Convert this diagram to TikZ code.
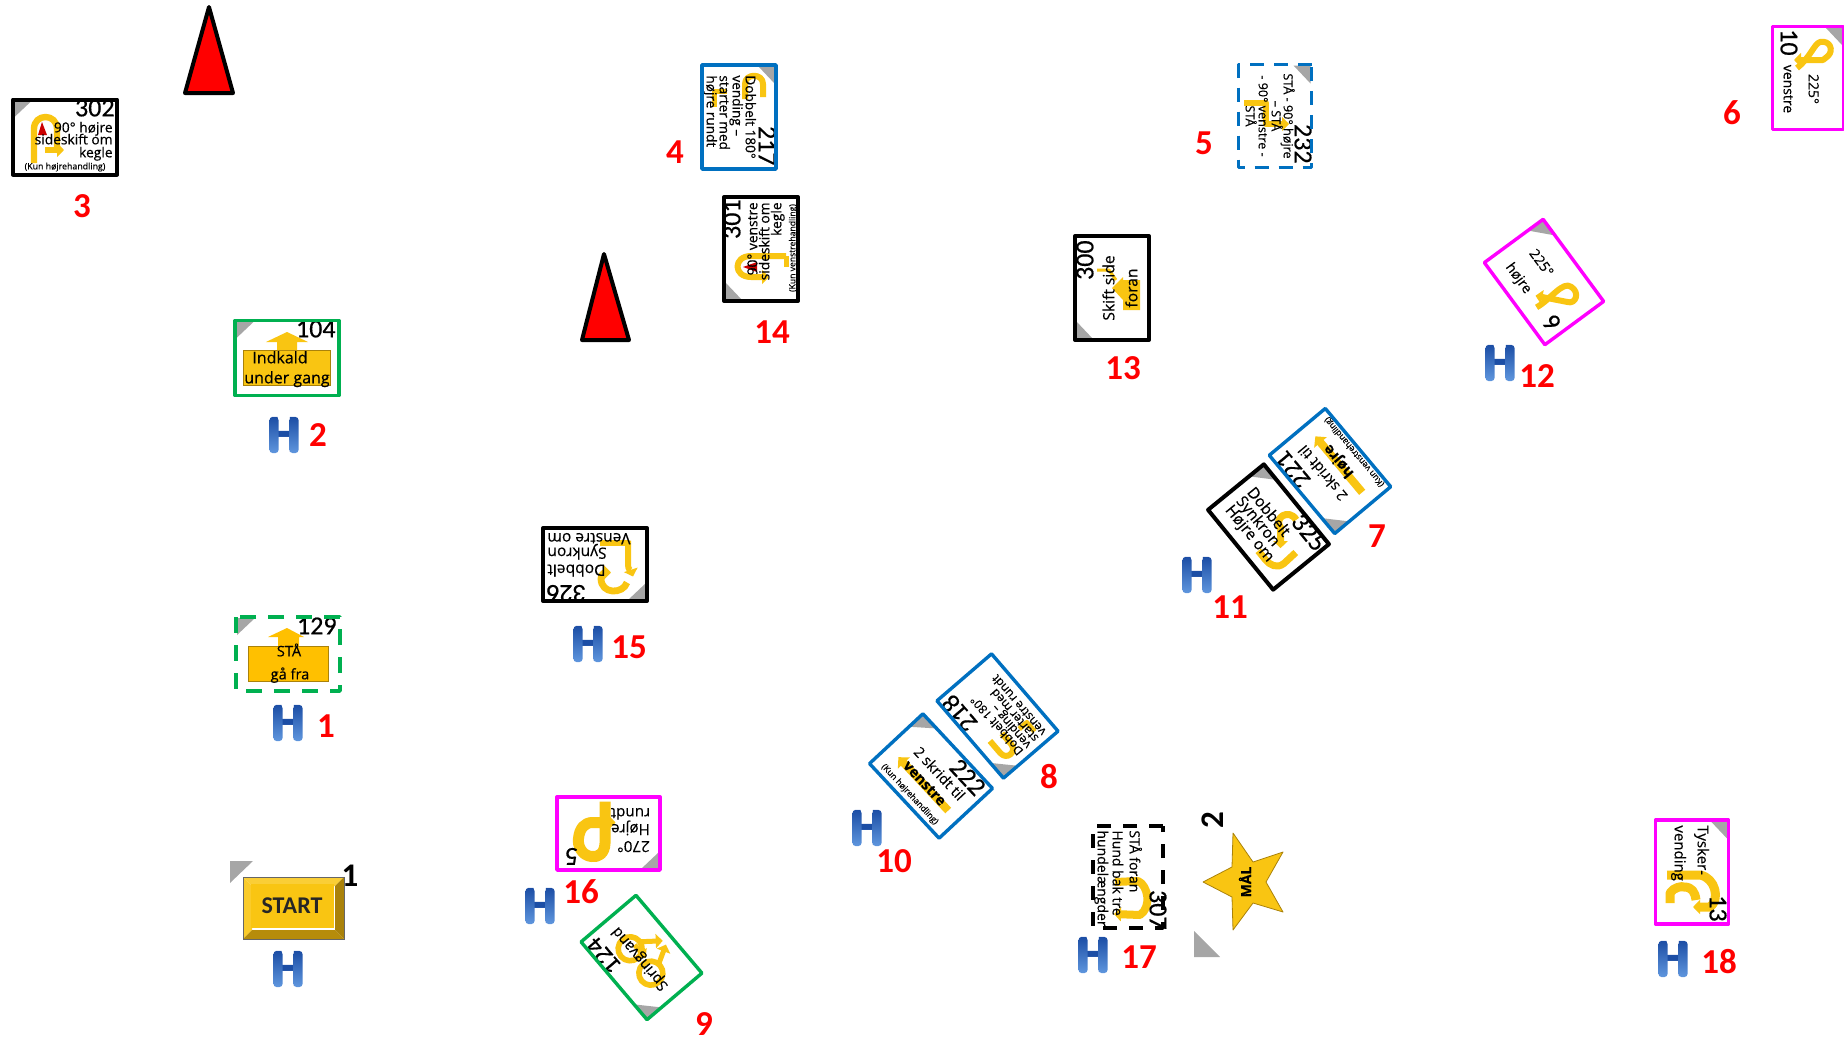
\documentclass[tikz,border=0pt]{standalone}
\usepackage{fontspec}
\setmainfont[FakeBold=0.35]{Open Sans}
\newfontfamily\nf[FakeBold=0.5]{Carlito}
\newfontfamily\rf{Carlito}
\newfontfamily\hf{Liberation Sans}
\usetikzlibrary{arrows.meta}
\definecolor{ygold}{RGB}{249,197,18}
\definecolor{ybox}{RGB}{255,192,0}
\definecolor{ydark}{RGB}{170,130,10}
\definecolor{sgreen}{RGB}{0,176,80}
\definecolor{sblue}{RGB}{0,112,192}
\definecolor{smag}{RGB}{255,0,255}
\definecolor{cgrey}{RGB}{166,166,166}
\definecolor{hdark}{RGB}{28,78,165}
\definecolor{hlight}{RGB}{95,150,222}
\tikzset{
 yg/.style={draw=ygold,line width=#1,line join=round},
 yg/.default=3pt,
 ya/.style={-{Triangle[length=#1,width=2*#1]}},
 ya/.default=4pt,
 ybx/.style={fill=ybox,draw=ydark,line width=.3pt},
 frame/.style={line width=1.7pt,line join=round},
 blk/.style={frame,draw=black,line width=2pt},
 grn/.style={frame,draw=sgreen},
 blu/.style={frame,draw=sblue},
 mag/.style={frame,draw=smag},
 gdash/.style={dash pattern=on 8pt off 6pt},
 bdash/.style={dash pattern=on 7pt off 5pt},
 kdash/.style={dash pattern=on 7pt off 6pt},
 redlab/.style={inner sep=0,text=red,font=\fontsize{17.5}{18}\selectfont\rf\bfseries},
 cone/.style={draw=black,fill=red,line width=2pt,line join=round},
 tri/.style={fill=cgrey},
}
\newcounter{tn}
% one line of text: anchor, x, y, size, text
\newcommand{\stx}[5]{\stepcounter{tn}\node[inner sep=0,anchor=#1,font=\fontsize{#4}{#4}\selectfont] (t\arabic{tn}) at (#2,#3) {#5};}
% number on a sign
\newcommand{\snum}[3]{\stepcounter{tn}\node[inner sep=0,anchor=mid east,font=\fontsize{13}{13}\selectfont\nf] (t\arabic{tn}) at (#1,#2) {#3};}
% sign frame: name, w, h, style; white ground and grey corner
\newcommand{\sbase}[4]{\node[inner sep=0,minimum width=#2*.5pt,minimum height=#3*.5pt,fill=white] (#1) at (0,0) {};
 \fill[tri] ({-#2/2+1},{-#3/2+1}) -- ++(18,0) -- ++(-18,17) -- cycle;}
\newcommand{\sframe}[3]{\draw[#3] ({-#1/2},{-#2/2}) rectangle ({#1/2},{#2/2});}
\newenvironment{sgn}[3]{\begin{scope}[shift={(#1,#2)},rotate=#3,transform shape]}{\end{scope}}
% H marker
\newcommand{\hmk}[3]{\begin{scope}[shift={(#2,#3)}]
 \node[inner sep=0,text=hdark,xscale=.8,font=\fontsize{25.5}{26}\selectfont\hf\bfseries] (#1) at (0,0) {H};
 \shade[top color=hdark,bottom color=hlight,rounded corners=1.5pt] (-14.5,-18) rectangle (-5.5,18);
 \shade[top color=hdark,bottom color=hlight,rounded corners=1.5pt] (5.5,-18) rectangle (14.5,18);
 \end{scope}}
\newcommand{\rl}[4]{\node[redlab] (#1) at (#2,#3) {#4};}
\begin{document}
\begin{tikzpicture}[x=.5pt,y=-.5pt]
\path[use as bounding box] (0,0) rectangle (1844,1039);

% cones
\coordinate (c1a) at (209,7); \coordinate (c1b) at (185,93); \coordinate (c1c) at (233,93);
\draw[cone] (c1a) -- (c1b) -- (c1c) -- cycle;
\coordinate (c2a) at (604,254); \coordinate (c2b) at (582,340); \coordinate (c2c) at (629,340);
\draw[cone] (c2a) -- (c2b) -- (c2c) -- cycle;

% 302
\begin{sgn}{65}{137}{0}
 \sbase{s302}{104}{75}{blk}
 \draw[yg=3.2pt,ya=3.5pt] (-31,26) -- (-31,-8) .. controls (-31,-24) and (-8,-24) .. (-8,-8) -- (-8,13) -- (-1,13);
 \draw[yg=3pt] (-20,13) -- (-8,13);
 \fill[red!80!black] (-23,-15) -- (-27,-2) -- (-18,-2) -- cycle;
 \snum{50}{-26}{302}
 \stx{mid east}{48}{-10}{6.9}{90° højre}
 \stx{mid east}{48}{2}{6.9}{sideskift om}
 \stx{mid east}{48}{15}{6.9}{kegle}
 \stx{mid}{0}{27}{4.4}{(Kun højrehandling)}
 \sframe{104}{75}{blk}
\end{sgn}

% 104
\begin{sgn}{287}{358}{0}
 \sbase{s104}{104}{75}{grn}
 \draw[ybx,fill=ygold] (-44,-8) rectangle (43,27);
 \fill[ygold] (0,-26) -- (-21,-16) -- (-10,-16) -- (-10,-8) -- (10,-8) -- (10,-16) -- (21,-16) -- cycle;
 \snum{49}{-26}{104}
 \stx{mid}{-7}{0}{8}{Indkald}
 \stx{mid}{0}{20}{8}{under gang}
 \sframe{104}{75}{grn}
\end{sgn}

% 129
\begin{sgn}{288}{654}{0}
 \sbase{s129}{104}{74}{grn}
 \draw[ybx] (-40,-8) rectangle (40,27);
 \fill[ybox] (-1,-26) -- (-20,-17) -- (-10,-17) -- (-10,-8) -- (11,-8) -- (11,-17) -- (16,-17) -- cycle;
 \snum{49}{-25}{129}
 \stx{mid}{1}{-3}{7.3}{STÅ}
 \stx{mid}{2}{20}{7.3}{gå fra}
 \sframe{104}{74}{grn,gdash}
\end{sgn}

% START
\fill[tri] (230,861) -- (253,861) -- (230,883) -- cycle;
\fill[white] (243,877) rectangle (344,939);
\fill[ygold!85!white] (243,877) -- (344,877) -- (335,886) -- (252,886) -- cycle;
\fill[ygold!90!white] (243,877) -- (252,886) -- (252,930) -- (243,939) -- cycle;
\fill[ydark] (344,877) -- (335,886) -- (335,930) -- (344,939) -- cycle;
\fill[ydark!85!ygold] (243,939) -- (252,930) -- (335,930) -- (344,939) -- cycle;
\node[inner sep=0,minimum width=41.5pt,minimum height=22pt,fill=ygold,text=black!85,font=\fontsize{12}{12}\selectfont\rf\bfseries] (start) at (292,906) {START};
\draw[black!60,line width=.4pt] (243,877) rectangle (344,939);
\node[inner sep=0,font=\fontsize{16.5}{17}\selectfont\rf\bfseries] (startn) at (350,876) {1};

% 217
\begin{sgn}{739}{117}{-90}
 \sbase{s217}{104}{74}{blu}
 \draw[yg=3pt] (-20,-24) -- (-33,-24) .. controls (-44,-24) and (-44,-6) .. (-33,-6) -- (-18,-6);
 \draw[yg=2.5pt] (-26,25) -- (-10,25);
 \draw[yg=2.5pt] (-26,12) -- (-26,25);
 \snum{49}{-25}{217}
 \stx{mid west}{-42}{-12}{6.8}{Dobbelt 180°}
 \stx{mid west}{-42}{1}{6.8}{vending –}
 \stx{mid west}{-42}{14}{6.8}{starter med}
 \stx{mid west}{-42}{27}{6.8}{højre rundt}
 \sframe{104}{74}{blu}
\end{sgn}

% 232
\begin{sgn}{1275}{116}{-90}
 \sbase{s232}{103}{73}{blu}
 \draw[yg=3pt,ya=3.5pt] (-13,31) -- (-13,9) -- (8,9) -- (8,-14);
 \snum{48}{-25}{232}
 \stx{mid}{0}{-14}{6.3}{STÅ - 90° højre}
 \stx{mid}{0}{-2}{6.3}{– STÅ}
 \stx{mid}{0}{11}{6.3}{- 90° venstre -}
 \stx{mid}{0}{24}{6.3}{STÅ}
 \sframe{103}{73}{blu,bdash}
\end{sgn}

% 301
\begin{sgn}{761}{249}{90}
 \sbase{s301}{104}{74}{blk}
 \draw[yg=3pt,ya=3.5pt] (-7,25) -- (-7,-10) .. controls (-7,-28) and (-28,-28) .. (-28,-10) -- (-28,8);
 \draw[yg=2.5pt] (-7,25) -- (-18,25);
 \fill[red!80!black] (-18,-18) -- (-23,-4) -- (-13,-4) -- cycle;
 \snum{50}{-26}{301}
 \stx{mid east}{47}{-9}{6.9}{90° venstre}
 \stx{mid east}{47}{3}{6.9}{sideskift om}
 \stx{mid east}{47}{15}{6.9}{kegle}
 \stx{mid}{1}{29}{4.3}{(Kun venstrehandling)}
 \sframe{104}{74}{blk}
\end{sgn}

% 300
\begin{sgn}{1112}{288}{90}
 \sbase{s300}{104}{74}{blk}
 \draw[yg=1.5pt] (18,-15) -- (18,-3) -- (8,4);
 \fill[ygold] (0,0) -- (11,11) -- (8,11) -- (8,28) -- (-22,28) -- (-22,11) -- (-12,11) -- cycle;
 \snum{48}{-24}{300}
 \stx{mid}{0}{-3}{7.8}{Skift side}
 \stx{mid}{0}{20}{7.8}{foran}
 \sframe{104}{74}{blk}
\end{sgn}

% 225 venstre (10)
\begin{sgn}{1808}{78}{-90}
 \sbase{s10}{103}{71}{mag}
 \draw[yg=3pt,ya=3.5pt] (-10,11) .. controls (-20,-2) and (-34,-6) .. (-36,-12) .. controls (-38,-22) and (-28,-26) .. (-22,-20) -- (-18,-15) -- (-18,14);
 \snum{-22}{22}{10}
 \stx{mid}{11}{19}{7}{venstre}
 \stx{mid}{11}{-6}{7}{225°}
 \sframe{103}{71}{mag}
\end{sgn}

% 225 hoejre (9)
\begin{sgn}{1544}{282}{-53.6}
 \sbase{s9}{102}{73}{mag}
 \draw[yg=3pt,ya=3.5pt] (16,21) .. controls (18,5) and (10,-16) .. (20,-19) .. controls (30,-23) and (37,-12) .. (30,-7) -- (6,15);
 \stx{mid}{-17}{-10}{7}{225°}
 \stx{mid}{-18}{17}{7}{højre}
 \snum{44}{21}{9}
 \sframe{102}{73}{mag}
\end{sgn}

% 326
\begin{sgn}{595}{564.5}{180}
 \sbase{s326}{104}{73}{blk}
 \draw[yg=3pt,ya=3.5pt] (-33,24) -- (-33,0) .. controls (-33,-6) and (-36,-6) .. (-38,-12);
 \draw[yg=3pt] (-5,22) -- (-33,22);
 \draw[yg=3.4pt,ya=3.5pt] (-32,-18) .. controls (-28,-30) and (-6,-30) .. (-6,-14) .. controls (-6,-8) and (-12,-8) .. (-16,-8);
 \snum{49}{-26}{326}
 \stx{mid east}{48}{-5.5}{7.8}{Dobbelt}
 \stx{mid east}{48}{11.5}{7.8}{Synkron}
 \stx{mid east}{48}{26}{7.8}{Venstre om}
 \sframe{104}{73}{blk}
\end{sgn}

% 270 (5)
\begin{sgn}{608.5}{833.5}{180}
 \sbase{s5}{103}{73}{mag}
 \draw[yg=5.5pt,ya=3pt] (3.5,32) -- (3.5,-10) .. controls (4,-20) and (10,-24) .. (17,-23) .. controls (27,-22) and (31,-12) .. (30,-5) .. controls (29,5) and (24,11) .. (16,11) -- (-7,11);
 \snum{44}{-20}{5}
 \stx{mid}{-25}{-13}{7.6}{270°}
 \stx{mid}{-22}{4}{7.6}{Højre}
 \stx{mid}{-22}{20}{7.6}{rundt}
 \sframe{103}{73}{mag}
\end{sgn}

% 124
\begin{sgn}{641.5}{957.5}{130.3}
 \sbase{s124}{102}{72}{grn}
 \draw[yg=2.8pt] (14,-3) circle[radius=6pt];
 \draw[yg=2.8pt] (-18,-3) circle[radius=6pt];
 \draw[yg=2.5pt,ya=3.5pt] (13,9) -- (-1,27);
 \draw[yg=2.5pt,ya=3.5pt] (-16,9) -- (-6,27);
 \draw[yg=2.5pt,ya=3.5pt] (14,3) -- (-3,3);
 \snum{46}{-25}{124}
 \stx{mid}{0}{-3}{7.4}{Springvand}
 \sframe{102}{72}{grn}
\end{sgn}

% 221
\begin{sgn}{1330}{471}{129.9}
 \sbase{s221}{102}{73}{blu}
 \draw[yg=4pt,ya=4pt] (-37,11) -- (36,11);
 \snum{45}{-25}{221}
 \stx{mid}{3}{-7}{7.3}{2 skridt til}
 \stx{mid}{2}{12}{7.3}{\bfseries højre}
 \stx{mid}{-1}{28}{4.3}{(Kun venstrehandling)}
 \sframe{102}{73}{blu}
\end{sgn}

% 325
\begin{sgn}{1268.5}{527}{-50.8}
 \sbase{s325}{103}{72}{blk}
 \draw[yg=3.5pt] (37,-5) -- (38,11) .. controls (38,20) and (30,23) .. (24,23) -- (12,23);
 \draw[yg=3.5pt,ya=3.5pt] (12,-26) .. controls (-2,-28) and (-4,-9) .. (8,-9) -- (24,4);
 \snum{50}{-25}{325}
 \stx{mid west}{-41}{-10}{7.8}{Dobbelt}
 \stx{mid west}{-41}{4}{7.8}{Synkron}
 \stx{mid west}{-41}{18}{7.8}{Højre om}
 \sframe{103}{72}{blk}
\end{sgn}

% 218
\begin{sgn}{997.5}{716}{130.7}
 \sbase{s218}{102}{72}{blu}
 \draw[yg=3pt] (-14,-22) -- (-30,-22) .. controls (-40,-22) and (-40,-8) .. (-30,-8) -- (-16,-8);
 \draw[yg=2.5pt] (-36,18) -- (-24,18) -- (-24,8);
 \snum{47}{-24}{218}
 \stx{mid west}{-44}{-8}{6}{Dobbelt 180°}
 \stx{mid west}{-44}{2}{6}{vending –}
 \stx{mid west}{-44}{12}{6}{starter med}
 \stx{mid west}{-44}{22}{6}{venstre rundt}
 \sframe{102}{72}{blu}
\end{sgn}

% 222
\begin{sgn}{931}{776}{-47}
 \sbase{s222}{102}{73}{blu}
 \draw[yg=4pt,ya=4pt] (37,11) -- (-36,11);
 \snum{46}{-23}{222}
 \stx{mid}{4}{-8}{7.3}{2 skridt til}
 \stx{mid}{1}{9}{7.3}{\bfseries venstre}
 \stx{mid}{-1}{25}{4.3}{(Kun højrehandling)}
 \sframe{102}{73}{blu}
\end{sgn}

% 307
\begin{sgn}{1128}{877}{-90}
 \node[inner sep=0,minimum width=51pt,minimum height=35pt,fill=white] (s307) at (0,0) {};
 \draw[yg=4pt,ya=3.5pt] (5,13) -- (4,-10) .. controls (8,-20) and (30,-24) .. (38,-12) -- (37,14);
 \snum{53}{-27}{307}
 \stx{mid west}{-47}{-7}{7}{STÅ foran}
 \stx{mid west}{-47}{10}{7}{Hund bak tre}
 \stx{mid west}{-47}{25}{7}{hundelængder}
 \sframe{102}{70}{blk,line width=1.8pt,kdash}
\end{sgn}

% 13 Tysker
\begin{sgn}{1692}{872}{-90}
 \sbase{s13}{104}{73}{mag}
 \draw[yg=4.5pt,ya=3.5pt] (3,25) -- (3,-8) .. controls (6,-24) and (28,-28) .. (35,-18) -- (35,-1);
 \draw[yg=4.5pt] (31,22) -- (21,22) .. controls (15,18) and (14,10) .. (15,8) .. controls (15,0) and (20,-3) .. (28,-4);
 \snum{50}{-23}{13}
 \stx{mid west}{-47}{-11}{7.5}{Tysker-}
 \stx{mid west}{-47}{12}{7.5}{vending}
 \sframe{104}{73}{mag}
\end{sgn}

% goal star
\fill[tri] (1194,931) -- (1194,957) -- (1220,957) -- cycle;
\draw[fill=ygold,draw=ydark,line width=.4pt,line join=round] (1233,833) -- (1253,862) -- (1283,852) -- (1266,882) -- (1283,912) -- (1253,903) -- (1233,930) -- (1232,897) -- (1203,882) -- (1232,867) -- cycle;
\node[inner sep=0,rotate=90,font=\fontsize{7}{7}\selectfont\bfseries] (goal) at (1245,882) {MÅL};
\node[inner sep=0,rotate=90,font=\fontsize{16.5}{17}\selectfont\rf\bfseries] (goaln) at (1213,820) {2};

% H markers
\hmk{h0}{288}{969}
\hmk{h1}{288}{723}
\hmk{h2}{284}{435}
\hmk{h15}{588}{644}
\hmk{h16}{540}{906}
\hmk{h10}{867}{828}
\hmk{h17}{1093}{955}
\hmk{h11}{1197}{575}
\hmk{h12}{1500}{363}
\hmk{h18}{1673}{959}

% red numbers
\rl{n1}{326}{726}{1}
\rl{n2}{318}{435}{2}
\rl{n3}{82}{206}{3}
\rl{n4}{675}{152}{4}
\rl{n5}{1204}{143}{5}
\rl{n6}{1732}{113}{6}
\rl{n7}{1377}{536}{7}
\rl{n8}{1049}{777}{8}
\rl{n9}{704}{1024}{9}
\rl{n10}{894}{861}{10}
\rl{n11}{1230}{607}{11}
\rl{n12}{1537}{376}{12}
\rl{n13}{1123}{368}{13}
\rl{n14}{772}{332}{14}
\rl{n15}{629}{647}{15}
\rl{n16}{581}{892}{16}
\rl{n17}{1139}{957}{17}
\rl{n18}{1719}{962}{18}
\end{tikzpicture}
\end{document}
